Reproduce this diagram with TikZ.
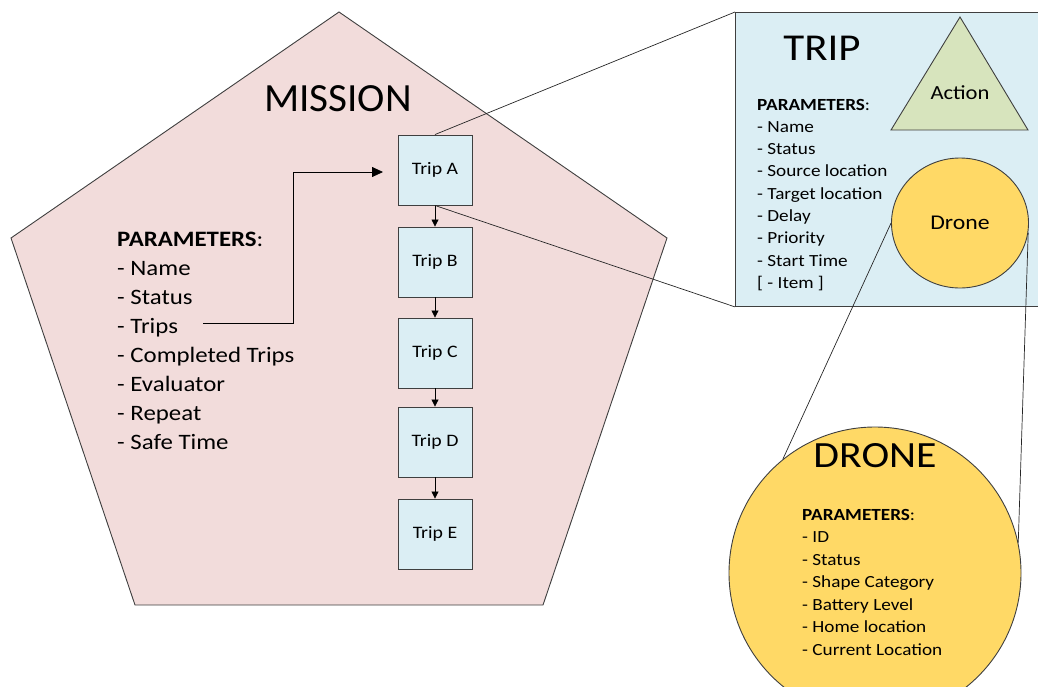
\documentclass[tikz,border=0pt]{standalone}
\usepackage{fontspec}
\setmainfont{Carlito}[FakeStretch=1.13]
\newfontfamily\titlefont{Carlito}[FakeStretch=1.03]
\usetikzlibrary{shapes.geometric,arrows.meta}
\definecolor{edge}{HTML}{3F3F3F}
\definecolor{pinkfill}{HTML}{F2DCDB}
\definecolor{bluefill}{HTML}{DBEEF4}
\definecolor{greenfill}{HTML}{D7E4BD}
\definecolor{yellowfill}{HTML}{FFD966}
\tikzset{
  stroke/.style={draw=edge, line width=0.9pt},
  tripbox/.style={stroke, fill=bluefill, minimum width=74pt, minimum height=70pt, inner sep=0pt, font=\fontsize{17.5}{20}\selectfont},
  listtxt/.style={anchor=base west, inner sep=0pt},
  conn/.style={draw=black!85, line width=0.7pt},
  arr/.style={draw=black, line width=0.8pt, -{Triangle[length=8pt,width=7pt]}},
}
\begin{document}
\begin{tikzpicture}[x=1pt,y=-1pt]
\useasboundingbox (0,0) rectangle (1038,686);
% Mission pentagon
\draw[stroke, fill=pinkfill] (339,12) -- (667,238) -- (543,605) -- (135,605) -- (11,238) -- cycle;
\node[anchor=base, inner sep=0pt, font=\titlefont\fontsize{40}{44}\selectfont] (mission) at (338,111) {MISSION};
% mission parameters
\node[listtxt, font=\fontsize{22}{26}\selectfont] (mp0) at (117,246) {\textbf{PARAMETERS}:};
\foreach \t [count=\i] in {Name,Status,Trips,Completed Trips,Evaluator,Repeat,Safe Time}
  \node[listtxt, font=\fontsize{22}{26}\selectfont] (mp\i) at (117,{246+29*\i}) {- \t};
% trip boxes
\node[tripbox] (tA) at (435,170) {Trip A};
\node[tripbox] (tB) at (435,262) {Trip B};
\node[tripbox] (tC) at (435,353) {Trip C};
\node[tripbox] (tD) at (435,442) {Trip D};
\node[tripbox] (tE) at (435,534) {Trip E};
\draw[arr, -{Triangle[length=7pt,width=7pt]}] (tA.south) -- (tB.north);
\draw[arr, -{Triangle[length=7pt,width=7pt]}] (tB.south) -- (tC.north);
\draw[arr, -{Triangle[length=7pt,width=7pt]}] (tC.south) -- (tD.north);
\draw[arr, -{Triangle[length=7pt,width=7pt]}] (tD.south) -- (tE.north);
% Trips arrow
\coordinate (tripsout) at (203,323);
\coordinate (tripsin) at (383,172);
\draw[arr, -{Triangle[length=11pt,width=10pt]}] (tripsout) -- (293,323) -- (293,172) -- (tripsin);
% TRIP panel
\node[stroke, fill=bluefill, anchor=north west, minimum width=310pt, minimum height=294pt, inner sep=0pt] (trip) at (735,12) {};
\draw[conn] (tA.north) -- (trip.north west);
\draw[conn] (tA.south) -- (trip.south west);
\node[anchor=base, inner sep=0pt, font=\fontsize{38}{42}\selectfont] (triptitle) at (822,60) {TRIP};
\node[listtxt, font=\fontsize{17}{20}\selectfont] (tp0) at (757,110) {\textbf{PARAMETERS}:};
\foreach \t [count=\i] in {Name,Status,Source location,Target location,Delay,Priority,Start Time}
  \node[listtxt, font=\fontsize{17}{20}\selectfont] (tp\i) at (757,{110+22.3*\i}) {- \t};
\node[listtxt, font=\fontsize{17}{20}\selectfont] (tp8) at (757,288) {[ - Item ]};
% Action triangle
\coordinate (acttop) at (960,17);
\coordinate (actl) at (891,130);
\coordinate (actr) at (1028,130);
\draw[stroke, fill=greenfill] (acttop) -- (actr) -- (actl) -- cycle;
\node[inner sep=0pt, font=\fontsize{20}{24}\selectfont] (action) at (960,93) {Action};
% small drone
\node[stroke, fill=yellowfill, ellipse, minimum width=137pt, minimum height=130pt, inner sep=0pt, font=\fontsize{21}{24}\selectfont] (drone) at (960,223) {Drone};
% big drone
\node[stroke, fill=yellowfill, circle, minimum size=292pt, inner sep=0pt] (bigdrone) at (875,573) {};
\draw[conn] (drone.west) -- (bigdrone.129);
\draw[conn] (drone.-8) -- (bigdrone.12);
\node[anchor=base, inner sep=0pt, font=\fontsize{37}{40}\selectfont] (dronetitle) at (875,467) {DRONE};
\node[listtxt, font=\fontsize{17}{20}\selectfont] (dp0) at (802,520) {\textbf{PARAMETERS}:};
\foreach \t [count=\i] in {ID,Status,Shape Category,Battery Level,Home location,Current Location}
  \node[listtxt, font=\fontsize{17}{20}\selectfont] (dp\i) at (802,{520+22.5*\i}) {- \t};
\end{tikzpicture}
\end{document}
